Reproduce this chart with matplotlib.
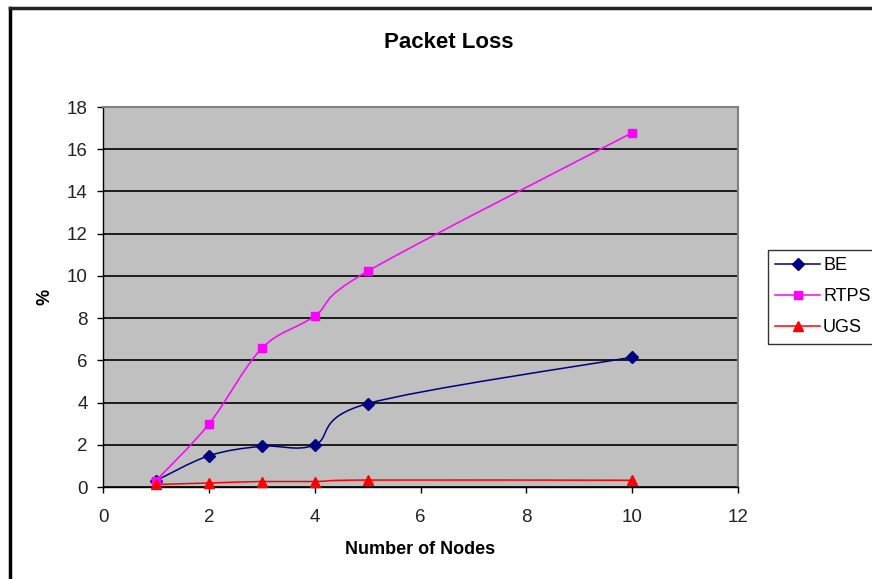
import numpy as np
import matplotlib.pyplot as plt
from matplotlib.path import Path
from matplotlib.patches import PathPatch
from matplotlib.lines import Line2D

plt.rcParams['font.family'] = ['Liberation Sans', 'DejaVu Sans']

# Paketverlust in % je Anzahl Knoten
nodes = [1, 2, 3, 4, 5, 10]
be = [0.3, 1.48, 1.93, 1.99, 3.95, 6.15]
rtps = [0.3, 2.98, 6.57, 8.1, 10.22, 16.78]
ugs = [0.12, 0.19, 0.26, 0.26, 0.33, 0.32]

series = [
    ('BE', be, '#000080', 'D', 6.0),
    ('RTPS', rtps, '#FF00FF', 's', 6.0),
    ('UGS', ugs, '#FF0000', '^', 7.5),
]


def smooth_path(x, y):
    # Geglaettete Kurve wie in Excel: kubische Bezier-Segmente (Catmull-Rom)
    p = np.column_stack([x, y]).astype(float)
    n = len(p)
    verts = [p[0]]
    codes = [Path.MOVETO]
    for i in range(n - 1):
        p0 = p[i - 1] if i > 0 else p[i]
        p1 = p[i]
        p2 = p[i + 1]
        p3 = p[i + 2] if i + 2 < n else p[i + 1]
        c1 = p1 + (p2 - p0) / 6.0
        c2 = p2 - (p3 - p1) / 6.0
        verts += [c1, c2, p2]
        codes += [Path.CURVE4] * 3
    return Path(verts, codes)


fig = plt.figure(figsize=(8.72, 5.79), dpi=100)
W, H = 872, 579
ax = fig.add_axes([103 / W, 1 - 487 / H, (738 - 103) / W, (487 - 107) / H])
ax.set_facecolor('#C0C0C0')

handles = []
for name, vals, col, mk, ms in series:
    ax.add_patch(PathPatch(smooth_path(nodes, vals), facecolor='none',
                           edgecolor=col, lw=1.1, zorder=3))
    ax.plot(nodes, vals, linestyle='none', marker=mk, markersize=ms,
            color=col, zorder=4, clip_on=False)
    handles.append(Line2D([], [], color=col, lw=1.1, marker=mk,
                          markersize=ms, label=name))

ax.set_xlim(0, 12)
ax.set_ylim(0, 18)
ax.set_xticks(range(0, 13, 2))
ax.set_yticks(range(0, 19, 2))
ax.yaxis.grid(True, color='black', lw=1.2)
ax.set_axisbelow(True)

for s in ['left', 'bottom']:
    ax.spines[s].set_color('black')
    ax.spines[s].set_linewidth(1.0)
for s in ['top', 'right']:
    ax.spines[s].set_color('#808080')
    ax.spines[s].set_linewidth(1.5)

ax.tick_params(axis='both', direction='out', length=4, width=1,
               labelsize=13.5, labelcolor='#222222')
ax.tick_params(axis='x', pad=12)
ax.tick_params(axis='y', pad=7)

fig.text(449 / W, 1 - 43 / H, 'Packet Loss', ha='center', va='center',
         fontsize=16, fontweight='bold')
fig.text(420 / W, 1 - 549 / H, 'Number of Nodes', ha='center', va='center',
         fontsize=13, fontweight='bold')
fig.text(45 / W, 1 - 297 / H, '%', ha='center', va='center',
         fontsize=13, fontweight='bold', rotation=90)

leg = fig.legend(handles=handles, loc='upper left',
                 bbox_to_anchor=(768 / W, 1 - 250 / H),
                 frameon=True, fancybox=False, fontsize=13,
                 handlelength=2.5, handletextpad=0.15, labelspacing=0.78,
                 borderpad=0.4, borderaxespad=0)
leg.get_frame().set_edgecolor('black')
leg.get_frame().set_linewidth(1.0)

# Rahmen um das Diagramm
fig.add_artist(Line2D([10 / W, 10 / W], [0, 1 - 8 / H], color='black', lw=2.5))
fig.add_artist(Line2D([10 / W, 1], [1 - 8 / H, 1 - 8 / H], color='#222222', lw=2.5))

fig.savefig('out.png', dpi=100)
